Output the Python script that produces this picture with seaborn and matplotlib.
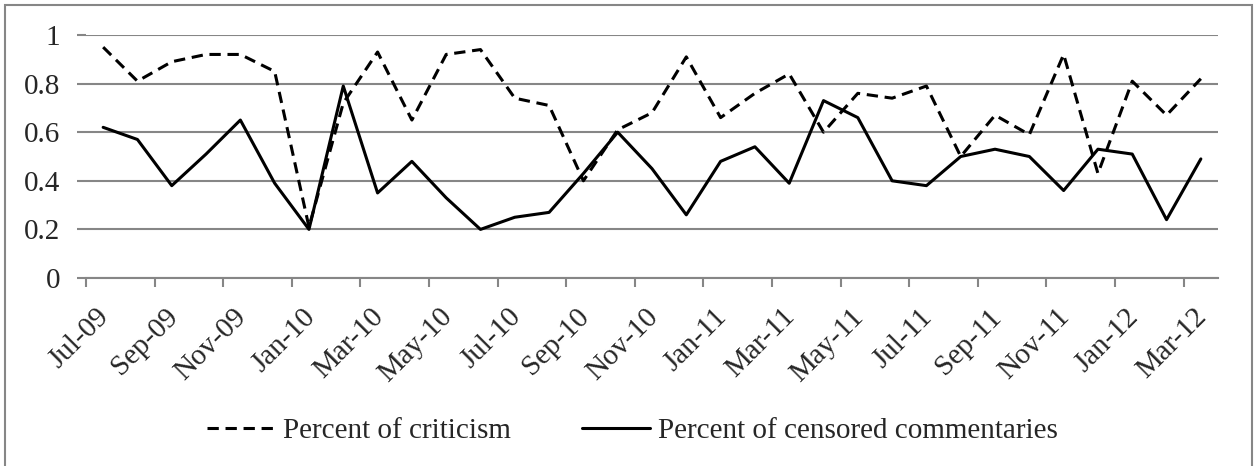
import numpy as np
import pandas as pd
import matplotlib
matplotlib.use("Agg")
import matplotlib.pyplot as plt
import matplotlib.transforms as mtransforms
import seaborn as sns
from matplotlib.patches import Rectangle

# monthly values, Jul-09 .. Mar-12
months = pd.period_range("2009-07", "2012-03", freq="M").strftime("%b-%y").tolist()
criticism = [0.95, 0.81, 0.89, 0.92, 0.92, 0.85, 0.21, 0.72, 0.93, 0.65,
             0.92, 0.94, 0.74, 0.71, 0.40, 0.61, 0.68, 0.91, 0.66, 0.76,
             0.84, 0.60, 0.76, 0.74, 0.79, 0.50, 0.67, 0.59, 0.92, 0.43,
             0.81, 0.67, 0.82]
censored = [0.62, 0.57, 0.38, 0.51, 0.65, 0.39, 0.20, 0.79, 0.35, 0.48,
            0.33, 0.20, 0.25, 0.27, 0.43, 0.60, 0.45, 0.26, 0.48, 0.54,
            0.39, 0.73, 0.66, 0.40, 0.38, 0.50, 0.53, 0.50, 0.36, 0.53,
            0.51, 0.24, 0.49]
series_names = ["Percent of criticism", "Percent of censored commentaries"]

df = pd.DataFrame({
    "month": months * 2,
    "value": criticism + censored,
    "series": [series_names[0]] * len(months) + [series_names[1]] * len(months),
})

sns.set_style("white")
plt.rcParams['font.family'] = ['Liberation Serif', 'DejaVu Serif']
grid_col = "#868686"
fs = 21

fig = plt.figure(figsize=(12.57, 4.66), dpi=100)
ax = fig.add_axes([86 / 1257, 1 - 278 / 466, (1218 - 86) / 1257, (278 - 35) / 466])

sns.lineplot(data=df, x="month", y="value", hue="series", style="series",
             palette={series_names[0]: "black", series_names[1]: "black"},
             dashes={series_names[0]: (3.7, 2.2), series_names[1]: ""},
             linewidth=2.2, sort=False, ax=ax, legend=True)

n = len(months)
ax.set_xlim(-0.5, n - 0.5)
ax.set_ylim(0, 1)
ax.set_yticks(np.arange(0, 1.01, 0.2))
ax.set_yticklabels(["0", "0.2", "0.4", "0.6", "0.8", "1"])
ax.set_xticks(np.arange(-0.5, n - 0.5, 2))
ax.set_xticklabels(months[::2])
ax.set_xlabel("")
ax.set_ylabel("")

ax.grid(axis="y", color=grid_col, linewidth=1.5)
ax.set_axisbelow(True)
for s in ["left", "right", "top"]:
    ax.spines[s].set_visible(False)
ax.spines["bottom"].set_color(grid_col)
ax.spines["bottom"].set_linewidth(1.5)

ax.tick_params(axis="y", length=6.5, width=1.5, color=grid_col, labelsize=fs, pad=12, left=True)
ax.tick_params(axis="x", length=6.5, width=1.5, color=grid_col, labelsize=fs, pad=12, bottom=True)
shift = mtransforms.ScaledTranslation(10 / 100, 0, fig.dpi_scale_trans)
for lab in ax.get_xticklabels():
    lab.set_rotation(45)
    lab.set_ha("right")
    lab.set_va("top")
    lab.set_rotation_mode("anchor")
    lab.set_transform(lab.get_transform() + shift)

handles, labels = ax.get_legend_handles_labels()
ax.get_legend().remove()
fig.legend(handles, labels, loc="center", bbox_to_anchor=(0.503, 1 - 431 / 466), ncol=2,
           frameon=False, fontsize=fs, handlelength=2.33, handletextpad=0.27, columnspacing=2.45)

# chart area border
fig.patches.append(Rectangle((5 / 1257, -0.05), 1247 / 1257, 1.05 - 5 / 466,
                             transform=fig.transFigure, fill=False,
                             edgecolor=grid_col, linewidth=1.5))

fig.savefig("out.png", dpi=100)
